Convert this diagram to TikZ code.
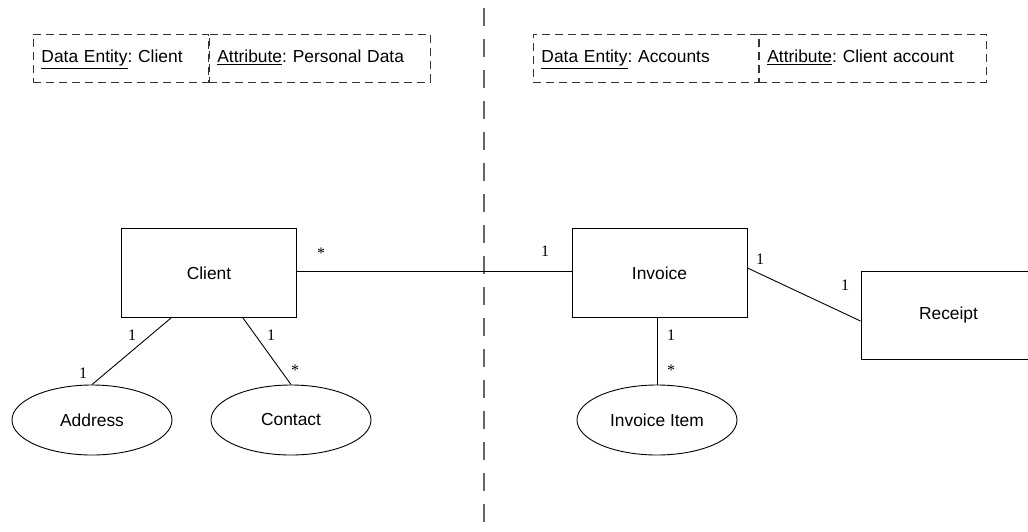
\documentclass[tikz,border=0pt]{standalone}
\usepackage{fontspec}
\setmainfont{Liberation Sans}
\newfontfamily\cardfont{Liberation Serif}
\usetikzlibrary{shapes.geometric,positioning}
\frenchspacing

\tikzset{
	entity/.style={draw, line width=1pt, minimum width=175pt, minimum height=89pt, inner sep=0pt},
	attr/.style={draw, ellipse, line width=0.9pt, minimum width=160pt, minimum height=70pt, inner sep=0pt},
	infobox/.style={draw=black!80, line width=0.9pt, dash pattern=on 8pt off 5pt,
		minimum height=48pt, inner sep=8pt, text height=13pt, text depth=4pt,
		align=left, anchor=north west},
	card/.style={font=\cardfont\fontsize{16}{16}\selectfont, inner sep=0pt},
	rel/.style={line width=0.9pt}
}

\begin{document}
\begin{tikzpicture}[x=1pt,y=-1pt,font=\fontsize{17.4}{20}\selectfont]
		\useasboundingbox (0,0) rectangle (1028,531);
		% info boxes
		\node[infobox, text width=159pt] (ent1) at (33,34) {\underline{Data Entity}: Client};
		\node[infobox, text width=205pt, right=0pt of ent1.north east, anchor=north west] (att1) {\underline{Attribute}: Personal Data};
		\node[infobox, text width=209pt] (ent2) at (533,34) {\underline{Data Entity}: Accounts};
		\node[infobox, text width=211pt, right=0pt of ent2.north east, anchor=north west] (att2) {\underline{Attribute}: Client account};
		% divider
		\coordinate (top) at (484,8);
		\coordinate (bottom) at (484,531);
		\draw [black!60, line width=1.1pt, dash pattern=on 18pt off 13pt] (top) -- (bottom);
		% entities
		\node[entity] (client) at (209,273) {Client};
		\node[entity] (invoice) at (659.5,273) {Invoice};
		\node[entity, minimum height=88pt] (receipt) at (948.5,315) {Receipt};
		\node[attr] (address) at (92,420) {Address};
		\node[attr] (contact) at (291,420) {Contact};
		\node[attr] (item) at (657,420) {Invoice Item};
		% relations
		\draw [rel] ([yshift=2pt]client.east) -- ([yshift=2pt]invoice.west);
		\draw [rel] ([xshift=-38pt]client.south) -- (address.north);
		\draw [rel] ([xshift=34pt]client.south) -- (contact.north);
		\draw [rel] ([xshift=-2.5pt]invoice.south) -- (item.north);
		\draw [rel] ([yshift=5pt]invoice.east) -- ([yshift=-6pt]receipt.west);
		% cardinalities
		\node[card] (c1) at (321,253) {*};
		\node[card] (c2) at (545,251) {1};
		\node[card] (c3) at (132,335) {1};
		\node[card] (c4) at (83,373) {1};
		\node[card] (c5) at (271,335) {1};
		\node[card] (c6) at (295,370) {*};
		\node[card] (c7) at (760,259) {1};
		\node[card] (c8) at (845,285) {1};
		\node[card] (c9) at (671,335) {1};
		\node[card] (c10) at (671,370) {*};
	\end{tikzpicture}
\end{document}
